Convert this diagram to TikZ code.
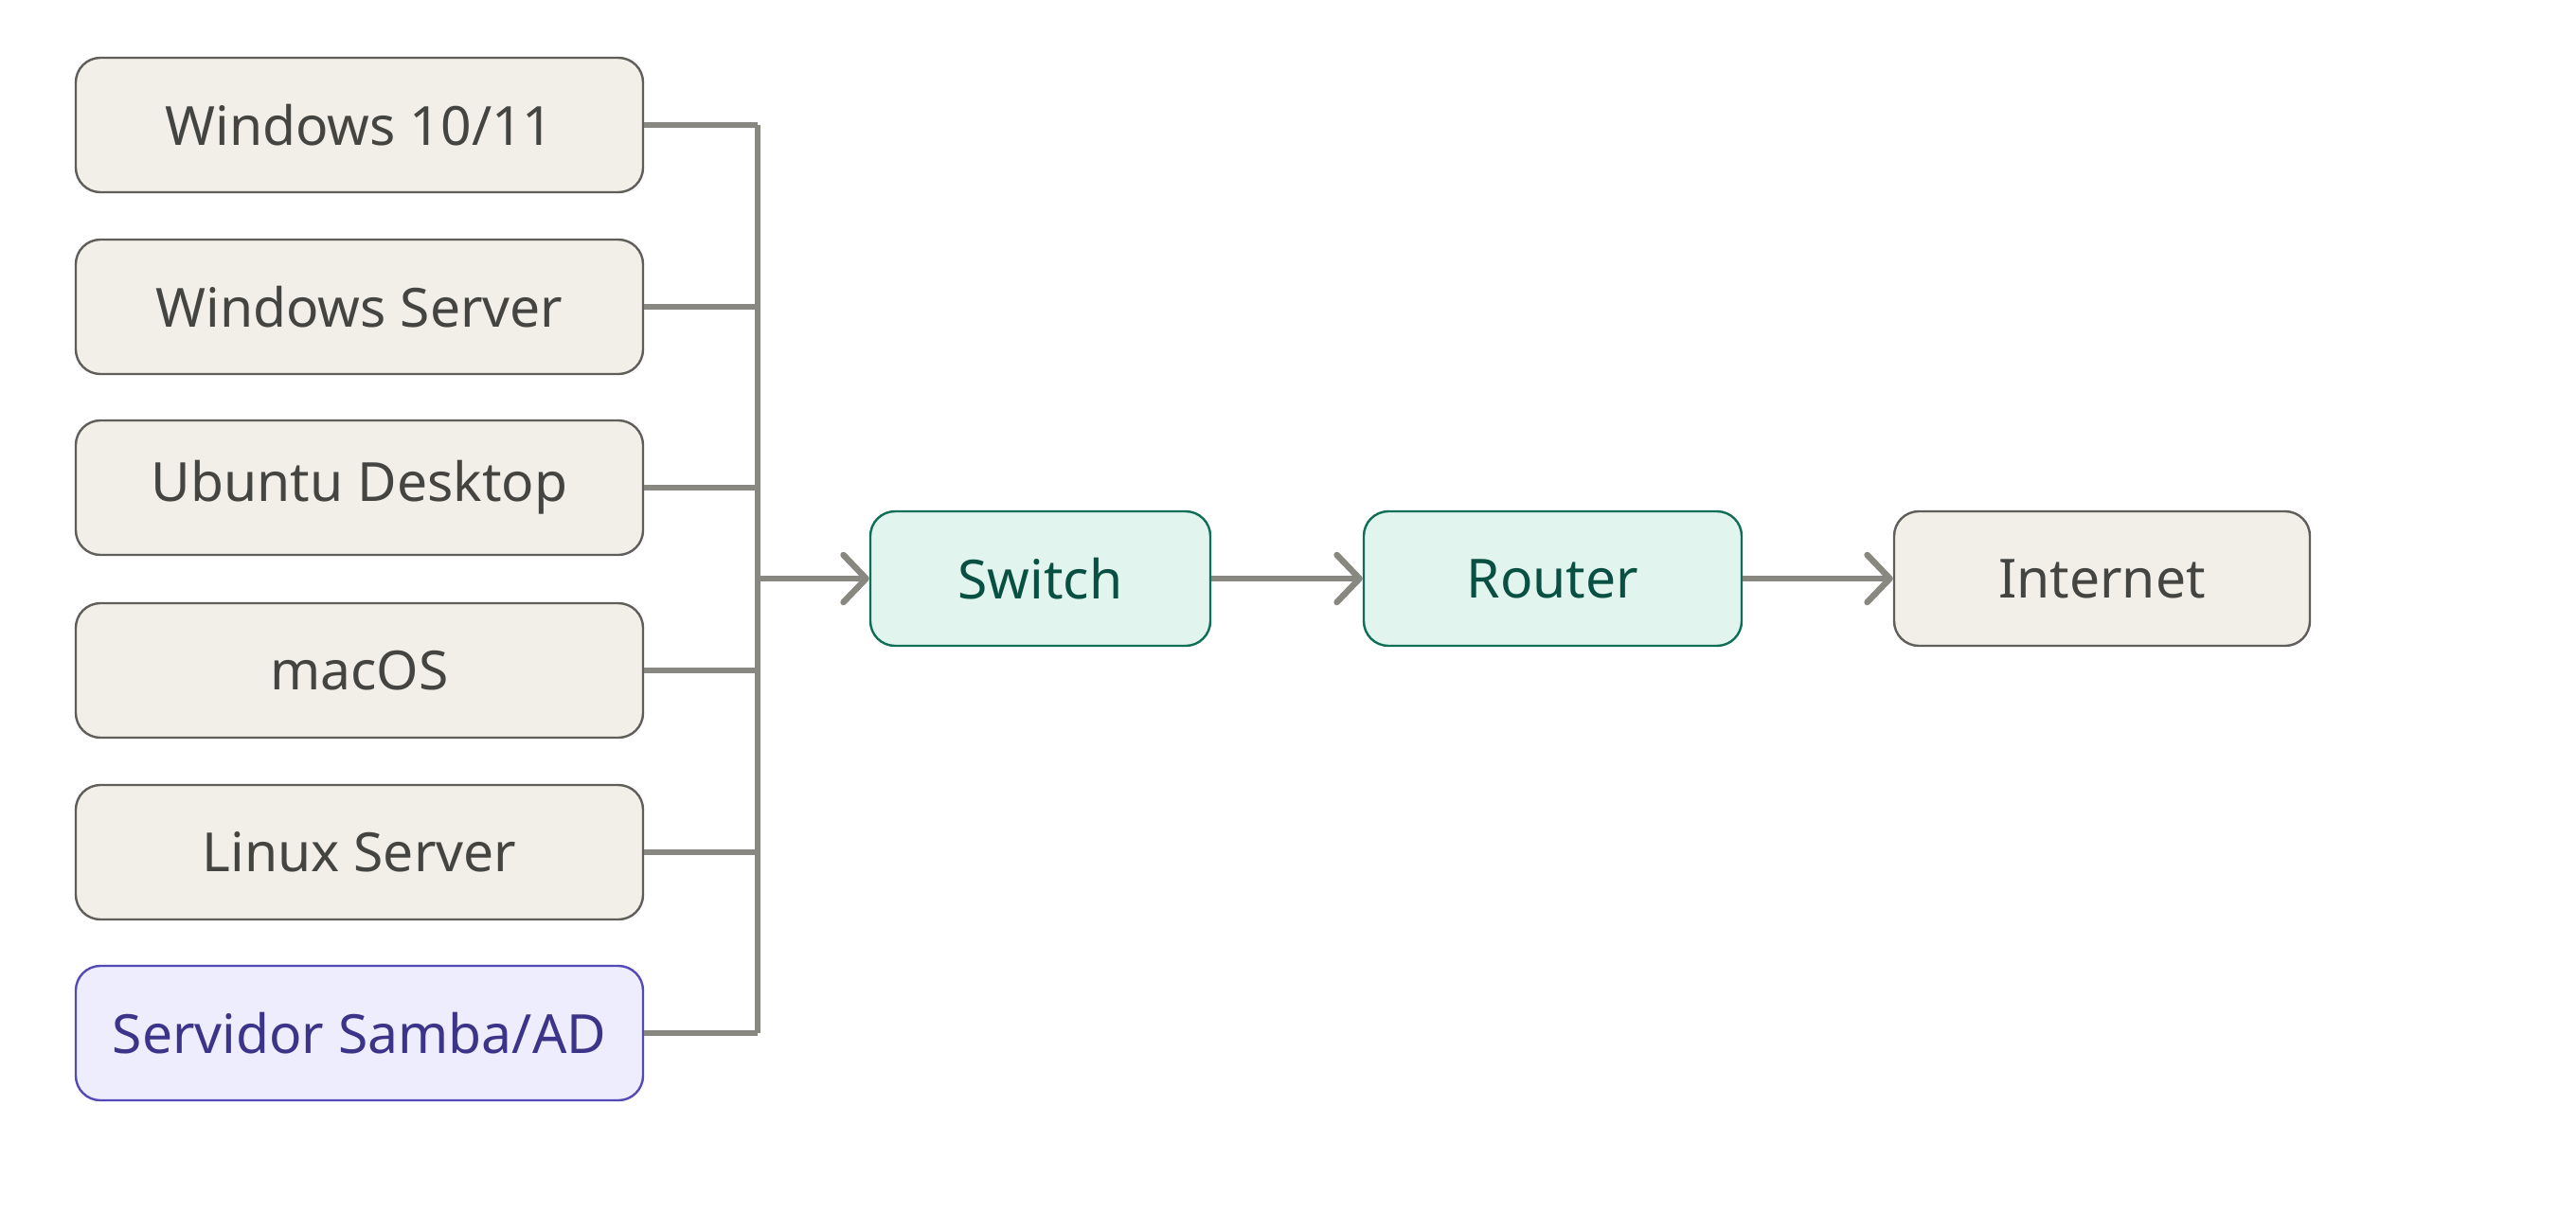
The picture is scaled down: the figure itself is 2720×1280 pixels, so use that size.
\documentclass[tikz,border=0pt]{standalone}
\usepackage{fontspec}
\setmainfont{Noto Sans}
\usetikzlibrary{arrows.meta}
\definecolor{gfill}{HTML}{F1EFE8}
\definecolor{gdraw}{HTML}{5F5E5A}
\definecolor{gtext}{HTML}{444441}
\definecolor{tfill}{HTML}{E1F5EE}
\definecolor{tdraw}{HTML}{0F6E56}
\definecolor{ttext}{HTML}{085041}
\definecolor{pfill}{HTML}{EEEDFE}
\definecolor{pdraw}{HTML}{534AB7}
\definecolor{ptext}{HTML}{3C3489}
\definecolor{conn}{HTML}{888780}
\tikzset{
  box/.style={rectangle, rounded corners=26pt, line width=2.4pt, minimum height=142pt, inner sep=0pt,
    font=\fontsize{57}{68}\selectfont},
  graybox/.style={box, fill=gfill, draw=gdraw, text=gtext},
  tealbox/.style={box, fill=tfill, draw=tdraw, text=ttext},
  purplebox/.style={box, fill=pfill, draw=pdraw, text=ptext},
  wire/.style={draw=conn, line width=6.5pt},
  arr/.style={wire, -{Straight Barb[length=24pt,width=50pt,line cap=round,line join=round]}, line cap=butt},
}
\begin{document}
\begin{tikzpicture}[x=1pt,y=-1pt]
\useasboundingbox (0,0) rectangle (2720,1280);
\node[graybox, minimum width=599pt] (w10) at (379.5,132) {Windows 10/11};
\node[graybox, minimum width=599pt] (ws) at (379.5,324) {Windows Server};
\node[graybox, minimum width=599pt] (ub) at (379.5,515) {Ubuntu Desktop};
\node[graybox, minimum width=599pt] (mac) at (379.5,708) {macOS};
\node[graybox, minimum width=599pt] (ls) at (379.5,900) {Linux Server};
\node[purplebox, minimum width=599pt] (sam) at (379.5,1091) {Servidor Samba/AD};
\node[tealbox, minimum width=359pt] (sw) at (1098.5,611) {Switch};
\node[tealbox, minimum width=399pt] (rt) at (1639.5,611) {Router};
\node[graybox, minimum width=439pt] (inet) at (2219.5,611) {Internet};
\coordinate (btop) at (800,132);
\coordinate (bbot) at (800,1091);
\coordinate (bmid) at (800,611);
\draw[wire] (btop) -- (bbot);
\foreach \n in {w10,ws,ub,mac,ls,sam}{
  \draw[wire] (\n.east) -- (\n.east -| btop);
}
\draw[arr] (bmid) -- (sw.west);
\draw[arr] (sw.east) -- (rt.west);
\draw[arr] (rt.east) -- (inet.west);
\end{tikzpicture}
\end{document}
